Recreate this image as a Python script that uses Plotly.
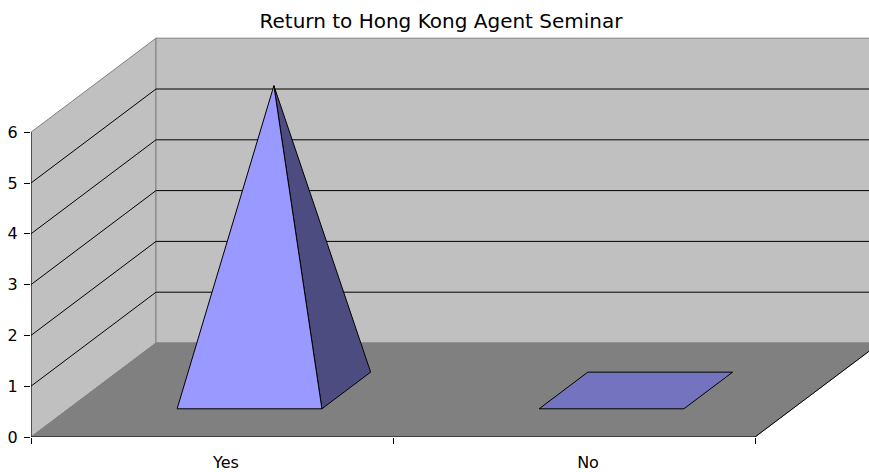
import plotly.graph_objects as go

# ---- data ----
categories = ["Yes", "No"]
values = [6, 0]
y_ticks = [0, 1, 2, 3, 4, 5, 6]
title_text = "Return to Hong Kong Agent Seminar"

# ---- projection constants (oblique 3D look) ----
DX = 125 / 362     # depth shift in category units
DY = 94 / 50.8     # depth shift in value units
VMAX = 6
NCAT = len(categories)
BAR_W = 0.40
D_FRONT, D_BACK = 0.30, 0.69


def P(x, v, d):
    return x + DX * d, v + DY * d


def poly(pts, fill, line_color, width=1):
    xs, ys = zip(*[P(*p) for p in pts])
    xs = list(xs) + [xs[0]]
    ys = list(ys) + [ys[0]]
    return go.Scatter(x=xs, y=ys, mode="lines", fill="toself", fillcolor=fill,
                      line=dict(color=line_color, width=width), hoverinfo="skip",
                      showlegend=False)


def seg(pts, color, width=1):
    xs, ys = zip(*[P(*p) for p in pts])
    return go.Scatter(x=list(xs), y=list(ys), mode="lines",
                      line=dict(color=color, width=width), hoverinfo="skip",
                      showlegend=False)


traces = []
WALL = "#C0C0C0"
FLOOR = "#808080"
EDGE = "#808080"

# left side wall
traces.append(poly([(0, 0, 0), (0, VMAX, 0), (0, VMAX, 1), (0, 0, 1)], WALL, EDGE))
# back wall
traces.append(poly([(0, 0, 1), (NCAT, 0, 1), (NCAT, VMAX, 1), (0, VMAX, 1)], WALL, EDGE))
# floor
traces.append(poly([(0, 0, 0), (NCAT, 0, 0), (NCAT, 0, 1), (0, 0, 1)], FLOOR, FLOOR))

# gridlines
for v in y_ticks[1:-1]:
    traces.append(seg([(0, v, 0), (0, v, 1), (NCAT, v, 1)], "black"))

# floor right edge & front axis line
traces.append(seg([(NCAT, 0, 0), (NCAT, 0, 1)], "black"))
traces.append(seg([(0, 0, 0), (NCAT, 0, 0)], "black"))
# vertical axis line
traces.append(seg([(0, 0, 0), (0, VMAX, 0)], "black"))

# pyramids
FRONT = "#9999FF"
SIDE = "#4C4C80"
TOP = "#7373BF"
for i, val in enumerate(values):
    cx = i + 0.5
    x0, x1 = cx - BAR_W / 2, cx + BAR_W / 2
    dm = (D_FRONT + D_BACK) / 2
    if val > 0:
        apex = (cx, val, dm)
        traces.append(poly([(x1, 0, D_FRONT), (x1, 0, D_BACK), apex], SIDE, "black"))
        traces.append(poly([(x0, 0, D_FRONT), (x1, 0, D_FRONT), apex], FRONT, "black"))
    else:
        traces.append(poly([(x0, 0, D_FRONT), (x1, 0, D_FRONT),
                            (x1, 0, D_BACK), (x0, 0, D_BACK)], TOP, "black"))

fig = go.Figure(traces)

W, H = 869, 472
L, B = 31, 35
PX_CAT = 362
PX_VAL = 50.8

fig.update_layout(
    width=W, height=H,
    margin=dict(l=L, r=0, t=0, b=B, pad=0, autoexpand=False),
    paper_bgcolor="white", plot_bgcolor="white",
    font=dict(family="DejaVu Sans", size=16, color="black"),
    title=dict(text=title_text, x=441 / W, xanchor="center",
               y=1 - 21 / H, yanchor="middle", yref="container",
               font=dict(size=20, family="DejaVu Sans", color="black")),
    showlegend=False,
    xaxis=dict(range=[0, (W - L) / PX_CAT], showgrid=False, zeroline=False,
               showline=False, tickvals=[i + 0.5 for i in range(NCAT)],
               ticktext=categories, ticks="", ticklabelshift=14,
               ticklabelstandoff=14, automargin=False,
               tickfont=dict(size=16),
               minor=dict(tickvals=list(range(NCAT + 1)), ticks="outside",
                          ticklen=6, tickcolor="black", tickwidth=1, showgrid=False),
               fixedrange=True),
    yaxis=dict(range=[0, (H - B) / PX_VAL], showgrid=False, zeroline=False,
               showline=False, tickvals=y_ticks, ticks="outside", ticklen=6,
               tickcolor="black", ticklabelstandoff=3, tickfont=dict(size=16),
               automargin=False, fixedrange=True),
)

fig.write_html("out.html", config={"displayModeBar": False},
               post_script="document.body.style.margin='0';document.body.style.overflow='hidden';")
